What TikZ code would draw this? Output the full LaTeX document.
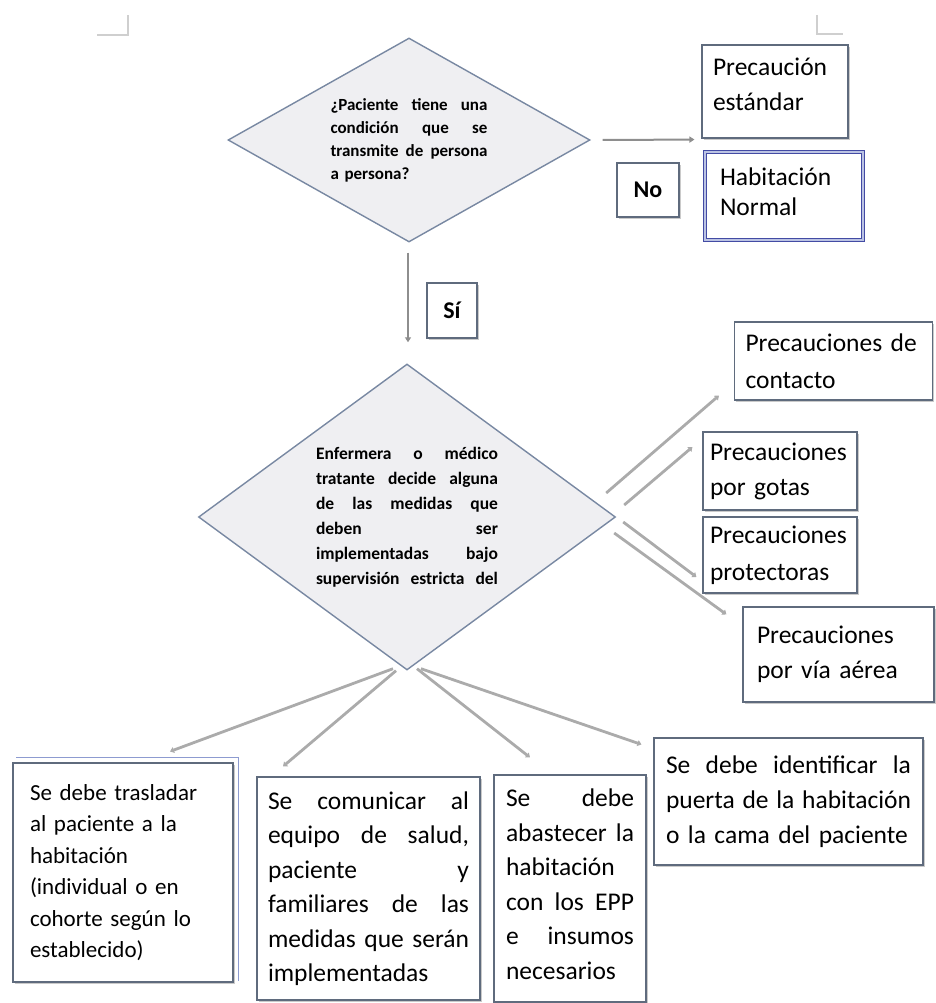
\documentclass[tikz,border=0pt]{standalone}
\usepackage{fontspec}
\setmainfont{Carlito}
\usetikzlibrary{shapes.geometric,arrows.meta,calc,shadows}

\definecolor{boxline}{HTML}{5F6B7D}
\definecolor{dfill}{HTML}{EFEFF2}
\definecolor{dline}{HTML}{7888A2}
\definecolor{conn}{HTML}{ABABAB}
\definecolor{connd}{HTML}{8E8E8E}
\definecolor{blueedge}{HTML}{8D9BD0}
\definecolor{markgray}{HTML}{CFCFCF}

% one justified line: the word spaces stretch to fill width #1
\newcommand\jline[2]{\makebox[#1][l]{\spaceskip=.226em plus 1fill\relax #2}}

\begin{document}
\begin{tikzpicture}[x=1pt,y=-1pt,
  decision/.style={diamond, draw=dline, fill=dfill, line width=1.4pt,
    inner sep=0pt, align=left},
  infobox/.style={rectangle, draw=boxline, fill=white, line width=1.1pt,
    align=left, inner ysep=0pt,
    drop shadow={shadow xshift=1.6pt, shadow yshift=-1.6pt, opacity=0.35, fill=black!60}},
  boxtext/.style={font=\fontsize{25.5}{35}\selectfont},
  tag/.style={infobox, font=\bfseries\fontsize{24}{28}\selectfont, inner sep=0pt, align=center},
  link/.style={draw=conn, line width=2.8pt, -{Triangle[length=4pt,width=6pt]}},
  linkd/.style={draw=connd, line width=2pt, -{Triangle[length=5pt,width=6pt]}},
  cornermark/.style={draw=markgray, line width=1.5pt}
]
\useasboundingbox (0,0) rectangle (935,1003);

% page corner marks
\draw[cornermark] (97,35) -- (128,35) -- (128,15);
\draw[cornermark] (817,15) -- (817,34) -- (843,34);

% decisions
\node[decision, aspect=1.77, minimum width=362pt, minimum height=204pt, text width=157pt,
      font=\fontsize{17}{23}\selectfont\bfseries] (q1) at (409,140)
  {\jline{157pt}{¿Paciente tiene una}\\
   \jline{157pt}{condición que se}\\
   \jline{157pt}{transmite de persona}\\
   a persona?};

\node[decision, aspect=1.36, minimum width=417pt, minimum height=306pt, text width=182pt,
      font=\fontsize{17.5}{25}\selectfont\bfseries] (q2) at (407,517)
  {\jline{182pt}{Enfermera o médico}\\
   \jline{182pt}{tratante decide alguna}\\
   \jline{182pt}{de las medidas que}\\
   \jline{182pt}{deben ser}\\
   \jline{182pt}{implementadas bajo}\\
   \jline{182pt}{supervisión estricta del}};

% answer tags
\node[tag, minimum width=62pt, minimum height=54pt] (no) at (648,190) {No};
\node[tag, minimum width=50pt, minimum height=55pt] (si) at (452,310.5) {Sí};

% outcome when the condition is not transmissible
\node[infobox, boxtext, minimum width=146pt, minimum height=93pt,
      text width=124pt, inner xsep=11pt, text depth=49pt] (est) at (775,91.5)
  {Precaución\\estándar};
\node[infobox, minimum width=158pt, minimum height=88pt, text width=128pt,
      inner xsep=15pt, font=\fontsize{25.5}{30}\selectfont, text depth=38pt,
      draw=boxline!70!blue, double=blueedge!60, double distance=1.4pt,
      line width=1pt] (hab) at (784,196)
  {Habitación\\Normal};

% precaution types
\node[infobox, boxtext, minimum width=197pt, minimum height=78pt,
      text width=176pt, inner xsep=11pt, font=\fontsize{25.5}{37}\selectfont] (cont) at (833.5,361)
  {Precauciones de\\contacto};
\node[infobox, boxtext, minimum width=154pt, minimum height=78pt,
      text width=140pt, inner xsep=7pt] (got) at (780,471)
  {Precauciones\\por gotas};
\node[infobox, boxtext, minimum width=154pt, minimum height=76pt,
      text width=140pt, inner xsep=7pt, font=\fontsize{25.5}{37}\selectfont] (prot) at (780,555)
  {Precauciones\\protectoras};
\node[infobox, boxtext, minimum width=191pt, minimum height=95pt,
      text width=163pt, inner xsep=14pt] (aer) at (838.5,654.5)
  {Precauciones\\por vía aérea};

% actions
\node[infobox, minimum width=220pt, minimum height=219pt, text width=186pt,
      inner xsep=17pt, font=\fontsize{23}{31.5}\selectfont] (b1) at (123,872.5)
  {Se debe trasladar\\
   al paciente a la\\
   habitación\\
   (individual o en\\
   cohorte según lo\\
   establecido)};
\draw[blueedge, line width=1.5pt] ($(b1.north west)+(4,-5)$) -| ($(b1.south east)+(5,-2)$);

\node[infobox, minimum width=223pt, minimum height=223pt, text width=201pt,
      inner xsep=11pt, font=\fontsize{25.5}{34.5}\selectfont] (b2) at (368.5,888.5)
  {\jline{201pt}{Se comunicar al}\\
   \jline{201pt}{equipo de salud,}\\
   \jline{201pt}{paciente y}\\
   \jline{201pt}{familiares de las}\\
   \jline{201pt}{medidas que serán}\\
   implementadas};

\node[infobox, minimum width=152pt, minimum height=227pt, text width=128pt,
      inner xsep=12pt, font=\fontsize{25.5}{34.5}\selectfont, text depth=181pt] (b3) at (570,888.5)
  {\jline{128pt}{Se debe}\\
   \jline{128pt}{abastecer la}\\
   habitación\\
   \jline{128pt}{con los EPP}\\
   \jline{128pt}{e insumos}\\
   necesarios};

\node[infobox, minimum width=269pt, minimum height=127pt, text width=245pt,
      inner xsep=12pt, font=\fontsize{25.5}{35}\selectfont] (b4) at (788.5,801.5)
  {\jline{245pt}{Se debe identificar la}\\
   \jline{245pt}{puerta de la habitación}\\
   o la cama del paciente};

% connectors
\draw[linkd] ($(q1.east)+(12,0)$) -- ($(est.south west)+(-7,1)$);
\draw[linkd] ($(q1.south)+(-1,10)$) -- ($(q2.north)+(1,-21)$);

\draw[link] ($(q2.east)+(-10,-24)$) -- ($(cont.south west)+(-15,-5)$);
\draw[link] ($(q2.east)+(8,-12)$)   -- ($(got.west)+(-10,-24)$);
\draw[link] ($(q2.east)+(7,5)$)     -- ($(prot.west)+(-6,22)$);
\draw[link] ($(q2.east)+(-2,16)$)   -- ($(aer.north west)+(-16,8)$);

\draw[link] ($(q2.south)+(-14,-2)$) -- ($(b1.north)+(47,-11)$);
\draw[link] ($(q2.south)+(-11,0)$)  -- ($(b2.north)+(-85.5,-10)$);
\draw[link] ($(q2.south)+(10,-2)$)  -- ($(b3.north)+(-40,-17)$);
\draw[link] ($(q2.south)+(14,-2)$)  -- ($(b4.north west)+(-12,7)$);
\end{tikzpicture}
\end{document}
